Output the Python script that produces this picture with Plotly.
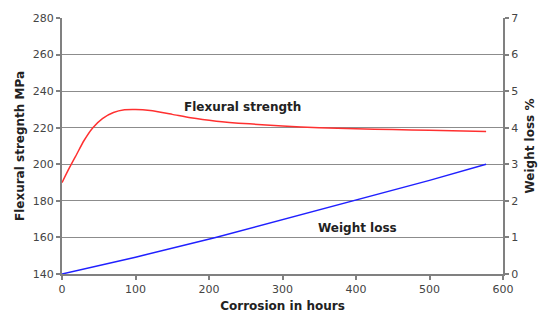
import plotly.graph_objects as go

hours_fs = [0, 10, 20, 30, 42, 55, 70, 85, 100, 120, 150, 175, 210, 255, 300, 350, 400, 450, 500, 577]
flexural = [190, 198, 205.5, 213, 220, 225, 228.3, 229.8, 230, 229.4, 227.3, 225.4, 223.6, 222.1, 220.9, 220, 219.4, 219, 218.6, 217.9]

hours_wl = [0, 100, 209, 300, 398, 500, 577]
weight_loss = [0, 0.46, 1.0, 1.49, 2.0, 2.56, 3.0]

x_ticks = [0, 100, 200, 300, 400, 500, 600]
y1_ticks = [140, 160, 180, 200, 220, 240, 260, 280]
y2_ticks = [0, 1, 2, 3, 4, 5, 6, 7]

font_family = "DejaVu Sans, Verdana, sans-serif"

fig = go.Figure()
fig.add_trace(go.Scatter(x=hours_fs, y=flexural, mode="lines",
                         line=dict(color="#ff3030", width=1.5, shape="spline", smoothing=0.6),
                         showlegend=False))
fig.add_trace(go.Scatter(x=hours_wl, y=weight_loss, mode="lines", yaxis="y2",
                         line=dict(color="#2020ff", width=1.5),
                         showlegend=False))

fig.add_annotation(x=245, y=231.5, text="<b>Flexural strength</b>", showarrow=False,
                   font=dict(size=12, color="#222222", family=font_family))
fig.add_annotation(x=402, y=1.25, yref="y2", text="<b>Weight loss</b>", showarrow=False,
                   font=dict(size=12, color="#222222", family=font_family))

axis_common = dict(showline=True, linecolor="#808080", linewidth=2,
                   ticks="outside", ticklen=4, tickcolor="#808080", tickwidth=1.5,
                   tickfont=dict(size=11, color="#444444", family=font_family),
                   zeroline=False)

fig.update_layout(
    width=547, height=323,
    margin=dict(l=62, r=40, t=16, b=47),
    paper_bgcolor="white", plot_bgcolor="white",
    font=dict(family=font_family, color="#222222"),
    xaxis=dict(range=[0, 600], tickvals=x_ticks, showgrid=False,
               title=dict(text="<b>Corrosion in hours</b>", font=dict(size=12, color="#222222"), standoff=6),
               **axis_common),
    yaxis=dict(range=[140, 280], tickvals=y1_ticks, showgrid=True, gridcolor="#8c8c8c", gridwidth=1.2,
               title=dict(text="<b>Flexural stregnth MPa</b>", font=dict(size=12, color="#222222"), standoff=6),
               **axis_common),
    yaxis2=dict(range=[0, 7], tickvals=y2_ticks, overlaying="y", side="right", showgrid=False,
                title=dict(text="<b>Weight loss %</b>", font=dict(size=12, color="#222222"), standoff=8),
                **axis_common),
)

fig.write_html("out.html")
